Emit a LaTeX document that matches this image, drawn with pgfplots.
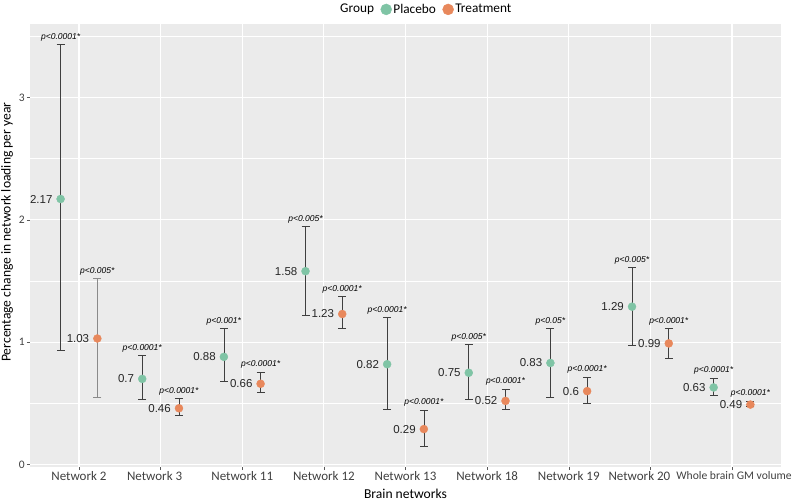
\documentclass[border=0pt]{standalone}
\usepackage{pgfplots}
\pgfplotsset{compat=1.18}
\usepackage{pgfplotstable}
\usepackage{fontspec}
\setmainfont{Carlito}
\newfontfamily\arial{Liberation Sans}
\usetikzlibrary{calc}
\definecolor{plc}{HTML}{7FC4A5}
\definecolor{trt}{HTML}{E8885C}
\definecolor{panel}{HTML}{EBEBEB}
\definecolor{ebar}{HTML}{3F3F3F}
\definecolor{ebarl}{HTML}{8A8A8A}
\definecolor{tlab}{HTML}{404040}

\pgfplotstableread{
x y ep em up lab p
-0.225 2.17 1.26 1.24 3.43 2.17 p<0.0001*
0.775 0.70 0.195 0.17 0.895 0.7 p<0.0001*
1.775 0.88 0.23 0.20 1.11 0.88 p<0.001*
2.775 1.58 0.365 0.36 1.945 1.58 p<0.005*
3.775 0.82 0.385 0.37 1.205 0.82 p<0.0001*
4.775 0.75 0.235 0.214 0.985 0.75 p<0.005*
5.775 0.83 0.286 0.28 1.116 0.83 p<0.05*
6.775 1.29 0.324 0.313 1.614 1.29 p<0.005*
7.775 0.63 0.078 0.061 0.708 0.63 p<0.0001*
}\placebo

\pgfplotstableread{
x y ep em up lab p
0.225 1.03 0.49 0.48 1.52 1.03 p<0.005*
1.225 0.46 0.08 0.06 0.54 0.46 p<0.0001*
2.225 0.66 0.097 0.07 0.757 0.66 p<0.0001*
3.225 1.23 0.147 0.115 1.377 1.23 p<0.0001*
4.225 0.29 0.157 0.14 0.447 0.29 p<0.0001*
5.225 0.52 0.098 0.073 0.618 0.52 p<0.0001*
6.225 0.60 0.116 0.102 0.716 0.6 p<0.0001*
7.225 0.99 0.123 0.122 1.113 0.99 p<0.0001*
8.225 0.49 0.03 0.014 0.52 0.49 p<0.0001*
}\treatment

\begin{document}
\begin{tikzpicture}
\begin{axis}[
  scale only axis, width=751pt, height=443pt,
  xmin=-0.6, xmax=8.6, ymin=-0.02, ymax=3.6,
  xtick={0,1,2,3,4,5,6,7,8},
  xticklabels={Network 2, \hspace*{-12pt}Network 3, Network 11, Network 12, Network 13, Network 18, Network 19, \hspace*{-22pt}Network 20, {\fontsize{11.6}{14}\selectfont\hspace*{4pt}Whole brain GM volume}},
  ytick={0,1,2,3}, minor ytick={0.5,1.5,2.5,3.5},
  grid=both,
  major grid style={white, line width=1.1pt},
  minor grid style={white, line width=0.55pt},
  axis background/.style={fill=panel},
  axis line style={draw=none},
  tick align=outside, major tick length=3pt, minor tick length=0pt,
  tick style={color=black!65, line width=0.5pt},
  tick pos=left,
  xticklabel style={font=\fontsize{13}{15}\selectfont, color=tlab, inner sep=1pt},
  yticklabel style={font=\fontsize{11.5}{13}\selectfont, color=tlab, inner sep=2pt},
  /pgf/number format/assume math mode=true,
  xlabel={Brain networks}, ylabel={Percentage change in network loading per year},
  label style={font=\fontsize{13.6}{15}\selectfont},
  xlabel style={at={(axis description cs:0.5,-0.061)}, anchor=center, inner sep=0pt},
  ylabel style={at={(axis description cs:-0.0306,0.53)}, anchor=center, inner sep=0pt},
  legend style={draw=none, fill=none, at={(axis description cs:0.527,1)}, anchor=south, yshift=6pt,
    font=\fontsize{13.3}{15}\selectfont, nodes={inner xsep=1.5pt, inner ysep=1pt},
    /tikz/every even column/.append style={column sep=5pt}},
  legend columns=-1,
]
\addlegendimage{empty legend}\addlegendentry{Group}
\addlegendimage{legend image code/.code={\fill[plc] (5.5pt,0pt) circle (5.5pt);}}\addlegendentry{Placebo}
\addlegendimage{legend image code/.code={\fill[trt] (5.5pt,0pt) circle (5.5pt);}}\addlegendentry{Treatment}

\addplot[forget plot, only marks, mark=*, mark size=4pt, mark options={draw=plc, fill=plc},
  error bars/.cd, y dir=both, y explicit,
  error bar style={ebar, line width=0.7pt},
  error mark options={ebar, line width=0.7pt, mark size=4pt, rotate=90}]
  table[x=x, y=y, y error plus=ep, y error minus=em] {\placebo};
\addplot[forget plot, only marks, mark=*, mark size=4pt, mark options={draw=trt, fill=trt},
  skip coords between index={0}{1},
  error bars/.cd, y dir=both, y explicit,
  error bar style={ebar, line width=0.7pt},
  error mark options={ebar, line width=0.7pt, mark size=4pt, rotate=90}]
  table[x=x, y=y, y error plus=ep, y error minus=em] {\treatment};
\addplot[forget plot, only marks, mark=*, mark size=4pt, mark options={draw=trt, fill=trt},
  skip coords between index={1}{9},
  error bars/.cd, y dir=both, y explicit,
  error bar style={ebarl, line width=1.4pt},
  error mark options={ebarl, line width=1.1pt, mark size=4pt, rotate=90}]
  table[x=x, y=y, y error plus=ep, y error minus=em] {\treatment};

\addplot[forget plot, draw=none, mark=none, nodes near coords, point meta=explicit symbolic,
  nodes near coords style={anchor=east, inner sep=0pt, xshift=-8pt, font=\arial\fontsize{11.5}{12}\selectfont, color=black!85}]
  table[x=x, y=y, meta=lab] {\placebo};
\addplot[forget plot, draw=none, mark=none, nodes near coords, point meta=explicit symbolic,
  nodes near coords style={anchor=east, inner sep=0pt, xshift=-8pt, font=\arial\fontsize{11.5}{12}\selectfont, color=black!85}]
  table[x=x, y=y, meta=lab] {\treatment};
\addplot[forget plot, draw=none, mark=none, nodes near coords, point meta=explicit symbolic,
  nodes near coords style={anchor=south, inner sep=0pt, yshift=3pt, font=\arial\itshape\fontsize{8.5}{9}\selectfont, color=black}]
  table[x=x, y=up, meta=p] {\placebo};
\addplot[forget plot, draw=none, mark=none, nodes near coords, point meta=explicit symbolic,
  nodes near coords style={anchor=south, inner sep=0pt, yshift=3pt, font=\arial\itshape\fontsize{8.5}{9}\selectfont, color=black}]
  table[x=x, y=up, meta=p] {\treatment};

\coordinate (sw) at (rel axis cs:0,0);
\coordinate (ne) at (rel axis cs:1,1);
\end{axis}
\pgfresetboundingbox
\path ($(sw)+(-30pt,-36pt)$) rectangle ($(ne)+(11pt,24pt)$);
\end{tikzpicture}
\end{document}
